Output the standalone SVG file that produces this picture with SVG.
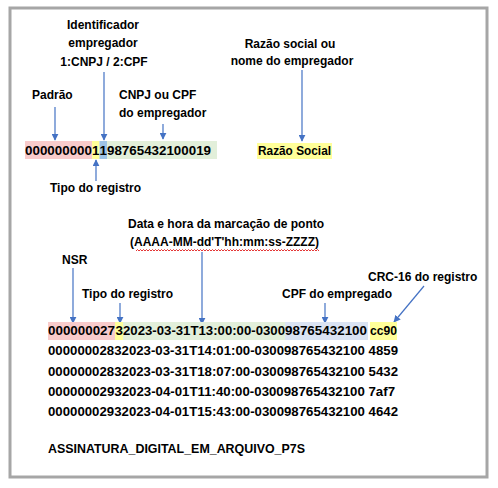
<svg xmlns="http://www.w3.org/2000/svg" width="498" height="488" viewBox="0 0 498 488">
<defs>
<style>
.lbl{font-family:"Liberation Sans",Arial,sans-serif;font-weight:bold;font-size:12px;fill:#000}
.dat{font-family:"Liberation Sans",Arial,sans-serif;font-weight:bold;font-size:13.4px;fill:#000}
.ar{stroke:#4472C4;stroke-width:1.2;fill:none;marker-end:url(#ah)}
</style>
<marker id="ah" viewBox="0 0 10 10" refX="9" refY="5" markerWidth="7" markerHeight="7" orient="auto" markerUnits="userSpaceOnUse">
<path d="M0,0 L10,5 L0,10 Z" fill="#4472C4"/>
</marker>
</defs>
<rect x="0" y="0" width="498" height="488" fill="#fff"/>
<rect x="10" y="8" width="477" height="469" fill="#fff" stroke="#a6a6a6" stroke-width="3"/>

<g id="connectors">
<line class="ar" x1="55" y1="107" x2="55" y2="140"/>
<line class="ar" x1="104" y1="72" x2="104" y2="140"/>
<line class="ar" x1="163" y1="124" x2="163" y2="139"/>
<line class="ar" x1="96" y1="181" x2="96" y2="160"/>
<line class="ar" x1="302" y1="70" x2="302" y2="141"/>
<line class="ar" x1="73" y1="268" x2="73" y2="323"/>
<line class="ar" x1="120" y1="303" x2="120" y2="323"/>
<line class="ar" x1="202" y1="252" x2="202" y2="324"/>
<line class="ar" x1="325" y1="303" x2="325" y2="323"/>
<line class="ar" x1="424" y1="286" x2="394" y2="322"/>
</g>

<g id="label-identificador">
<text class="lbl" x="103" y="29" text-anchor="middle">Identificador</text>
<text class="lbl" x="103" y="47" text-anchor="middle">empregador</text>
<text class="lbl" x="104" y="66" text-anchor="middle">1:CNPJ / 2:CPF</text>
</g>
<g id="label-padrao"><text class="lbl" x="32" y="99">Padrão</text></g>
<g id="label-cnpj">
<text class="lbl" x="119" y="99">CNPJ ou CPF</text>
<text class="lbl" x="119" y="117">do empregador</text>
</g>
<g id="label-razao">
<text class="lbl" x="290" y="48" text-anchor="middle">Razão social ou</text>
<text class="lbl" x="292" y="65" text-anchor="middle">nome do empregador</text>
</g>

<g id="row-header">
<rect x="25" y="141" width="67" height="18" fill="#F8CBCB"/>
<rect x="92" y="141" width="7.5" height="18" fill="#FFFF99"/>
<rect x="99.5" y="141" width="7.5" height="18" fill="#9DC3E6"/>
<rect x="107" y="141" width="110" height="18" fill="#E2EFDA"/>
<text class="dat" x="25" y="155" textLength="67" lengthAdjust="spacingAndGlyphs">000000000</text>
<text class="dat" x="92" y="155">1</text>
<text class="dat" x="99.5" y="155">1</text>
<text class="dat" x="107" y="155" textLength="104" lengthAdjust="spacingAndGlyphs">98765432100019</text>
</g>
<g id="razao-social">
<rect x="257" y="143" width="75" height="16" fill="#FFFF99"/>
<text class="dat" x="258" y="155" textLength="73" lengthAdjust="spacingAndGlyphs">Razão Social</text>
</g>
<g id="label-tipo1"><text class="lbl" x="50" y="192">Tipo do registro</text></g>

<g id="label-data">
<text class="lbl" x="128" y="228">Data e hora da marcação de ponto</text>
<text class="lbl" x="130" y="246">(AAAA-MM-dd'T'hh:mm:ss-ZZZZ)</text>
<path d="M136,251 l1.5,-1.5 l1.5,1.5 l1.5,-1.5 l1.5,1.5 l1.5,-1.5 l1.5,1.5 l1.5,-1.5 l1.5,1.5 l1.5,-1.5 l1.5,1.5 l1.5,-1.5 l1.5,1.5 l1.5,-1.5 l1.5,1.5 l1.5,-1.5 l1.5,1.5 l1.5,-1.5 l1.5,1.5 l1.5,-1.5 l1.5,1.5 l1.5,-1.5 l1.5,1.5 l1.5,-1.5 l1.5,1.5 l1.5,-1.5 l1.5,1.5 l1.5,-1.5 l1.5,1.5 l1.5,-1.5 l1.5,1.5 l1.5,-1.5 l1.5,1.5 l1.5,-1.5 l1.5,1.5 l1.5,-1.5 l1.5,1.5 l1.5,-1.5 l1.5,1.5 l1.5,-1.5 l1.5,1.5 l1.5,-1.5 l1.5,1.5 l1.5,-1.5 l1.5,1.5 l1.5,-1.5 l1.5,1.5 l1.5,-1.5 l1.5,1.5 l1.5,-1.5 l1.5,1.5 l1.5,-1.5 l1.5,1.5 l1.5,-1.5 l1.5,1.5 l1.5,-1.5 l1.5,1.5 l1.5,-1.5 l1.5,1.5 l1.5,-1.5 l1.5,1.5 l1.5,-1.5 l1.5,1.5 l1.5,-1.5 l1.5,1.5 l1.5,-1.5 l1.5,1.5 l1.5,-1.5 l1.5,1.5 l1.5,-1.5 l1.5,1.5 l1.5,-1.5 l1.5,1.5 l1.5,-1.5 l1.5,1.5 l1.5,-1.5 l1.5,1.5 l1.5,-1.5 l1.5,1.5 l1.5,-1.5 l1.5,1.5 l1.5,-1.5 l1.5,1.5 l1.5,-1.5 l1.5,1.5 l1.5,-1.5 l1.5,1.5 l1.5,-1.5 l1.5,1.5 l1.5,-1.5 l1.5,1.5 l1.5,-1.5 l1.5,1.5 l1.5,-1.5 l1.5,1.5 l1.5,-1.5 l1.5,1.5 l1.5,-1.5 l1.5,1.5 l1.5,-1.5 l1.5,1.5 l1.5,-1.5 l1.5,1.5 l1.5,-1.5 l1.5,1.5 l1.5,-1.5 l1.5,1.5 l1.5,-1.5 l1.5,1.5 l1.5,-1.5 l1.5,1.5 l1.5,-1.5 l1.5,1.5 l1.5,-1.5 l1.5,1.5 l1.5,-1.5 l1.5,1.5 l1.5,-1.5 l1.5,1.5 l1.5,-1.5 l1.5,1.5 l1.5,-1.5 l1.5,1.5" fill="none" stroke="#e02020" stroke-width="0.9"/>
</g>
<g id="label-nsr"><text class="lbl" x="62" y="264">NSR</text></g>
<g id="label-tipo2"><text class="lbl" x="82" y="298">Tipo do registro</text></g>
<g id="label-cpf"><text class="lbl" x="282" y="298">CPF do empregado</text></g>
<g id="label-crc"><text class="lbl" x="368" y="281">CRC-16 do registro</text></g>

<g id="row-main">
<rect x="48" y="322" width="67" height="18" fill="#F8CBCB"/>
<rect x="115" y="322" width="8" height="18" fill="#FFFF99"/>
<rect x="123" y="322" width="162" height="18" fill="#E2EFDA"/>
<rect x="285" y="322" width="83" height="18" fill="#DAE3F3"/>
<rect x="370" y="322" width="27" height="18" fill="#FFFF99"/>
<text class="dat" x="48" y="335" textLength="67" lengthAdjust="spacingAndGlyphs">000000027</text>
<text class="dat" x="115.5" y="335">3</text>
<text class="dat" x="123" y="335" textLength="162" lengthAdjust="spacingAndGlyphs">2023-03-31T13:00:00-0300</text>
<text class="dat" x="285" y="335" textLength="82" lengthAdjust="spacingAndGlyphs">98765432100</text>
<text class="dat" x="370" y="335" textLength="27" lengthAdjust="spacingAndGlyphs">cc90</text>
</g>
<g id="rows">
<text class="dat" x="48" y="355" textLength="350" lengthAdjust="spacingAndGlyphs">00000002832023-03-31T14:01:00-030098765432100 4859</text>
<text class="dat" x="48" y="376" textLength="350" lengthAdjust="spacingAndGlyphs">00000002832023-03-31T18:07:00-030098765432100 5432</text>
<text class="dat" x="48" y="396" textLength="347" lengthAdjust="spacingAndGlyphs">00000002932023-04-01T11:40:00-030098765432100 7af7</text>
<text class="dat" x="48" y="416" textLength="350" lengthAdjust="spacingAndGlyphs">00000002932023-04-01T15:43:00-030098765432100 4642</text>
<text class="dat" x="48" y="453" textLength="257" lengthAdjust="spacingAndGlyphs">ASSINATURA_DIGITAL_EM_ARQUIVO_P7S</text>
</g>
</svg>
